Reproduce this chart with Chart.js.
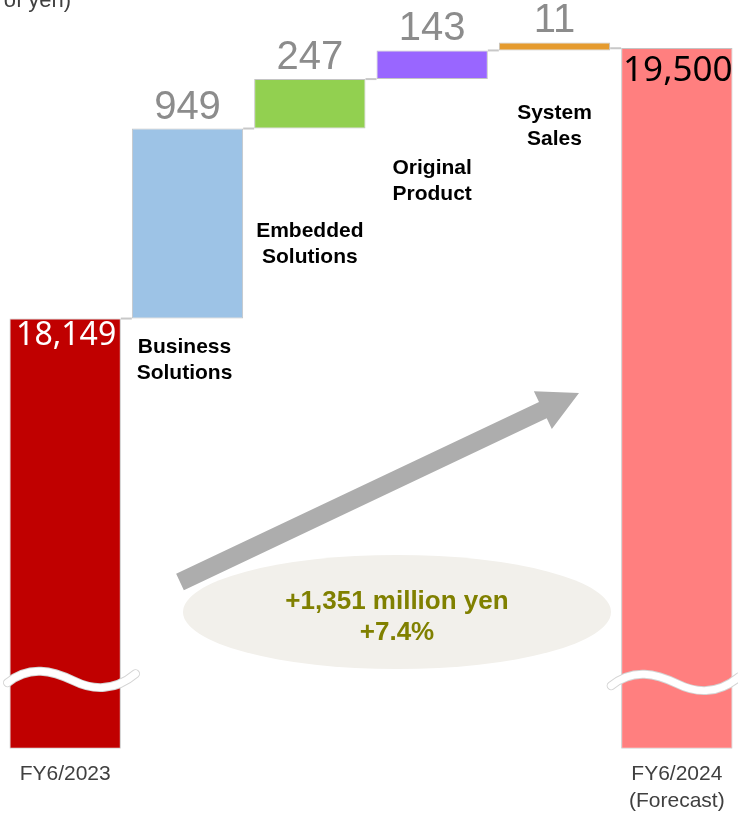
<!DOCTYPE html>
<html>
<head>
<meta charset="utf-8">
<title>Net sales bridge FY6/2023 - FY6/2024</title>
<script src="https://cdn.jsdelivr.net/npm/chart.js"></script>
<style>
  html, body { margin: 0; padding: 0; background: #ffffff; }
  #wrap { position: relative; width: 738px; height: 814px; }
</style>
</head>
<body>
<div id="wrap"><canvas id="bridgeChart"></canvas></div>
<script>
// Net sales bridge (million yen)
const categories = ['FY6/2023', 'Business Solutions', 'Embedded Solutions', 'Original Product', 'System Sales', 'FY6/2024'];
const tickLabels = ['FY6/2023', '', '', '', '', ['FY6/2024', '(Forecast)']];
const startValue = 18149;
const increments = [949, 247, 143, 11];
const endValue = 19500;
const totalChange = 1351;
const axisMin = 16000;   // axis is broken below this
const axisMax = 19700;
const breakValue = 16340;
const barColors = ['#C00000', '#9DC3E6', '#92D050', '#9966FF', '#E59B2E', '#FF7F7F'];

// floating bars: [base, top]
const floating = [[axisMin, startValue]];
let running = startValue;
increments.forEach(v => {
    floating.push([running, running + v]);
    running += v;
});
floating.push([axisMin, endValue]);

const valueText = [startValue, ...increments, endValue].map(v => v.toLocaleString('en-US'));

// extra drawing: connectors, value labels, names, axis break, arrow, summary
const bridgeDecor = {
    id: 'bridgeDecor',
    afterDatasetsDraw(chart) {
        const ctx = chart.ctx;
        const meta = chart.getDatasetMeta(0);
        const y = chart.scales.y;
        const bars = meta.data;

        ctx.save();

        // connectors between neighbouring bars
        ctx.strokeStyle = '#c8c8c8';
        ctx.lineWidth = 2;
        for (let i = 0; i < bars.length - 1; i++) {
            const level = y.getPixelForValue(floating[i][1]);
            ctx.beginPath();
            ctx.moveTo(bars[i].x + bars[i].width / 2, level);
            ctx.lineTo(bars[i + 1].x - bars[i + 1].width / 2, level);
            ctx.stroke();
        }

        // increment values above the bars
        ctx.textAlign = 'center';
        ctx.textBaseline = 'alphabetic';
        ctx.fillStyle = '#8c8c8c';
        ctx.font = '40px "Liberation Sans", Arial, sans-serif';
        for (let i = 1; i < bars.length - 1; i++) {
            const top = Math.min(bars[i].y, bars[i].base);
            ctx.fillText(valueText[i], bars[i].x, top - 10);
        }

        // totals inside the end bars
        ctx.textBaseline = 'top';
        ctx.font = '32px "Noto Sans", sans-serif';
        ctx.fillStyle = '#ffffff';
        ctx.fillText(valueText[0], bars[0].x + 1, bars[0].y + 1);
        ctx.font = '35px "Noto Sans", sans-serif';
        ctx.fillStyle = '#000000';
        ctx.fillText(valueText[5], bars[5].x + 1, bars[5].y + 5);

        // segment names under each step
        const nameDrop = [29, 103, 89, 63];
        ctx.font = 'bold 21px "Liberation Sans", Arial, sans-serif';
        ctx.fillStyle = '#000000';
        ctx.textBaseline = 'middle';
        for (let i = 1; i < bars.length - 1; i++) {
            const words = categories[i].split(' ');
            const bottom = Math.max(bars[i].y, bars[i].base);
            words.forEach((w, k) => {
                ctx.fillText(w, bars[i].x - (i === 1 ? 3 : 0), bottom + nameDrop[i - 1] + k * 26);
            });
        }

        // wavy break marks on the end bars
        const by = y.getPixelForValue(breakValue);
        [0, 5].forEach((i, n) => {
            const L = bars[i].x - bars[i].width / 2 - (n === 0 ? 2 : 10);
            const c = by + (n === 0 ? 0 : 3);
            const wave = () => {
                ctx.beginPath();
                ctx.moveTo(L, c + 2);
                ctx.bezierCurveTo(L + 22, c - 16, L + 45, c - 10, L + 66, c);
                ctx.bezierCurveTo(L + 86, c + 10, L + 108, c + 10, L + 128, c - 7);
            };
            ctx.lineCap = 'round';
            ctx.strokeStyle = '#d4d4d4';
            ctx.lineWidth = 9;
            wave(); ctx.stroke();
            ctx.strokeStyle = '#ffffff';
            ctx.lineWidth = 7;
            wave(); ctx.stroke();
        });

        // growth arrow
        const area = chart.chartArea;
        const tail = { x: area.left + 176, y: 582 };
        const tip = { x: area.left + 575, y: 393 };
        const ang = Math.atan2(tip.y - tail.y, tip.x - tail.x);
        const len = Math.hypot(tip.x - tail.x, tip.y - tail.y);
        const shaft = 9, head = 21, headLen = 40;
        ctx.save();
        ctx.translate(tail.x, tail.y);
        ctx.rotate(ang);
        ctx.fillStyle = '#adadad';
        ctx.beginPath();
        ctx.moveTo(0, -shaft);
        ctx.lineTo(len - headLen, -shaft);
        ctx.lineTo(len - headLen, -head);
        ctx.lineTo(len, 0);
        ctx.lineTo(len - headLen, head);
        ctx.lineTo(len - headLen, shaft);
        ctx.lineTo(0, shaft);
        ctx.closePath();
        ctx.fill();
        ctx.restore();

        // summary bubble
        const cx = area.left + 393, cy = 612;
        ctx.fillStyle = '#f2f0eb';
        ctx.beginPath();
        ctx.ellipse(cx, cy, 214, 57, 0, 0, Math.PI * 2);
        ctx.fill();
        ctx.fillStyle = '#808000';
        ctx.font = 'bold 26px "Liberation Sans", Arial, sans-serif';
        ctx.textBaseline = 'middle';
        ctx.fillText('+' + totalChange.toLocaleString('en-US') + ' million yen', cx, 602);
        ctx.fillText('+' + (totalChange / startValue * 100).toFixed(1) + '%', cx, 633);

        // unit caption, partly off the top edge
        ctx.textAlign = 'right';
        ctx.textBaseline = 'alphabetic';
        ctx.fillStyle = '#404040';
        ctx.font = '22px "Liberation Sans", Arial, sans-serif';
        ctx.fillText('(Unit: Millions of yen)', 71, 7);

        ctx.restore();
    }
};

function createBridgeChart() {
    const ctx = document.getElementById('bridgeChart').getContext('2d');
    new Chart(ctx, {
        type: 'bar',
        data: {
            labels: tickLabels,
            datasets: [{
                data: floating,
                backgroundColor: barColors,
                borderColor: '#c4c4c4',
                borderWidth: 1,
                borderSkipped: false,
                barPercentage: 0.91,
                categoryPercentage: 1.0,
                minBarLength: 8
            }]
        },
        options: {
            responsive: true,
            maintainAspectRatio: false,
            animation: false,
            layout: { padding: { left: 4, right: 0, top: 8, bottom: -13 } },
            plugins: {
                legend: { display: false },
                tooltip: { enabled: false }
            },
            scales: {
                x: {
                    grid: { display: false, drawTicks: false },
                    border: { display: false },
                    ticks: {
                        padding: 12,
                        color: '#404040',
                        maxRotation: 0,
                        autoSkip: false,
                        font: { family: '"Liberation Sans", Arial, sans-serif', size: 21, lineHeight: 1.29 }
                    }
                },
                y: {
                    display: false,
                    min: axisMin,
                    max: axisMax
                }
            }
        },
        plugins: [bridgeDecor]
    });
}

window.onload = function() {
    createBridgeChart();
};
</script>
</body>
</html>
